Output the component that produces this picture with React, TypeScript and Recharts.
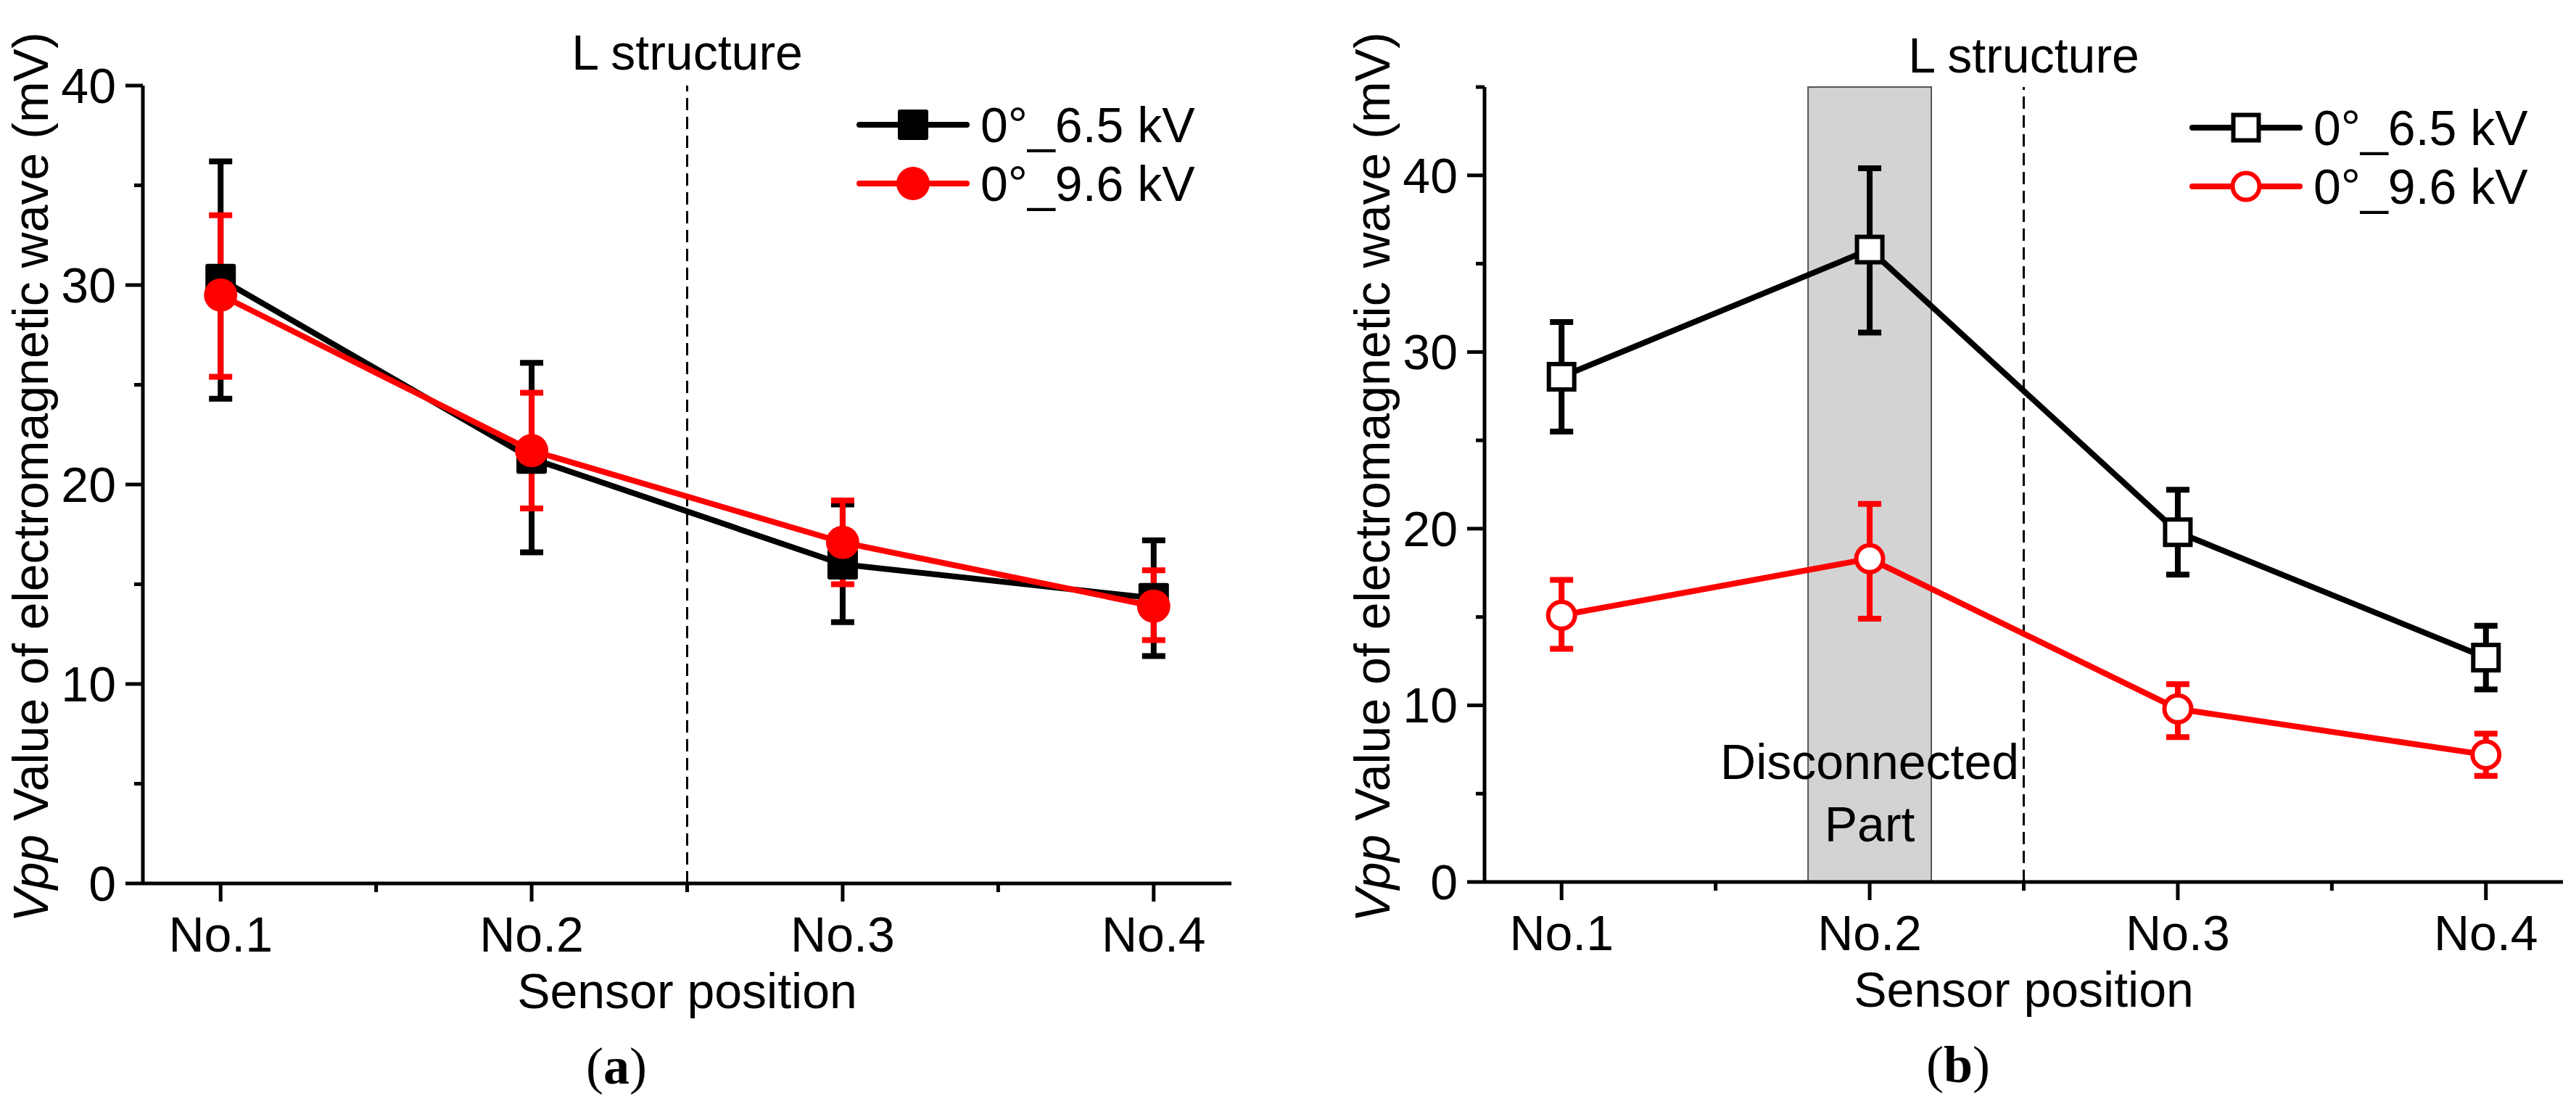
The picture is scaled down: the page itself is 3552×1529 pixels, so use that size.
import React from 'react'
import { LineChart, Line, XAxis, YAxis, ErrorBar, ReferenceLine, ReferenceArea, Legend, Label } from 'recharts'

const FONT = '"Liberation Sans", Arial, sans-serif'
const SERIF = '"Liberation Serif", "Times New Roman", serif'

// sensor positions and axis ticks
const positions = [1, 2, 3, 4]
const positionLabels = ['No.1', 'No.2', 'No.3', 'No.4']
const xTicks = [1, 1.5, 2, 2.5, 3, 3.5, 4]
const seriesNames = ['0°_6.5 kV', '0°_9.6 kV']
const yTicksA = [0, 5, 10, 15, 20, 25, 30, 35, 40]
const yTicksB = [0, 5, 10, 15, 20, 25, 30, 35, 40, 45]

// panel (a)
const a65 = [30.3, 21.3, 16.0, 14.3]
const a65Low = [24.3, 16.6, 13.1, 11.4]
const a65High = [36.2, 26.1, 19.0, 17.2]
const a96 = [29.5, 21.7, 17.1, 13.9]
const a96Low = [25.4, 18.8, 15.0, 12.2]
const a96High = [33.5, 24.6, 19.2, 15.7]

// panel (b)
const b65 = [28.6, 35.8, 19.8, 12.7]
const b65Low = [25.5, 31.1, 17.4, 10.9]
const b65High = [31.7, 40.4, 22.2, 14.5]
const b96 = [15.1, 18.3, 9.8, 7.2]
const b96Low = [13.2, 14.9, 8.2, 6.0]
const b96High = [17.1, 21.4, 11.2, 8.4]

const structureAt = 2.5
const disconnected = [1.8, 2.2]

const buildRows = (
  v1: number[], lo1: number[], hi1: number[],
  v2: number[], lo2: number[], hi2: number[]
) =>
  positions.map((p, i) => ({
    pos: p,
    v65: v1[i],
    e65: [v1[i] - lo1[i], hi1[i] - v1[i]],
    v96: v2[i],
    e96: [v2[i] - lo2[i], hi2[i] - v2[i]],
  }))

const rowsA = buildRows(a65, a65Low, a65High, a96, a96Low, a96High)
const rowsB = buildRows(b65, b65Low, b65High, b96, b96Low, b96High)

const XTick = (props: any) => {
  const { x, y, payload } = props
  const v = payload.value
  const major = Number.isInteger(v)
  return (
    <g>
      <line x1={x} x2={x} y1={y} y2={y + (major ? 25 : 12)} stroke="#000" strokeWidth={5} />
      {major && (
        <text x={x} y={y + 94} textAnchor="middle" fontSize={68} fontFamily={FONT} fill="#000">
          {positionLabels[v - 1]}
        </text>
      )}
    </g>
  )
}

const YTick = (props: any) => {
  const { x, y, payload } = props
  const major = payload.value % 10 === 0
  return (
    <g>
      <line x1={x} x2={x - (major ? 24 : 12)} y1={y} y2={y} stroke="#000" strokeWidth={5} />
      {major && (
        <text x={x - 37} y={y + 24} textAnchor="end" fontSize={68} fontFamily={FONT} fill="#000">
          {payload.value}
        </text>
      )}
    </g>
  )
}

const Marker = ({ cx, cy, shape, color, open }: any) => {
  if (cx == null || cy == null) return null
  if (shape === 'square') {
    return open ? (
      <rect x={cx - 17.5} y={cy - 17.5} width={35} height={35} fill="#fff" stroke={color} strokeWidth={6} />
    ) : (
      <rect x={cx - 21} y={cy - 21} width={42} height={42} rx={3} fill={color} />
    )
  }
  return open ? (
    <circle cx={cx} cy={cy} r={18.5} fill="#fff" stroke={color} strokeWidth={6} />
  ) : (
    <circle cx={cx} cy={cy} r={23} fill={color} />
  )
}

const legendContent = (open: boolean) => () => (
  <svg width={520} height={170}>
    {seriesNames.map((name, i) => {
      const cy = 40 + i * 81
      const color = i === 0 ? '#000' : '#ff0000'
      return (
        <g key={name}>
          <line x1={20} x2={168} y1={cy} y2={cy} stroke={color} strokeWidth={8} strokeLinecap="round" />
          <Marker cx={94} cy={cy} shape={i === 0 ? 'square' : 'circle'} color={color} open={open} />
          <text x={187} y={cy + 24} fontSize={68} fontFamily={FONT} fill="#000">
            {name}
          </text>
        </g>
      )
    })}
  </svg>
)

const yTitle = (props: any) => {
  const { viewBox } = props
  const cx = viewBox.x + viewBox.width - 131
  const cy = viewBox.y + viewBox.height / 2 - 10
  return (
    <text x={cx} y={cy} transform={`rotate(-90 ${cx} ${cy})`} textAnchor="middle" fontSize={68} fontFamily={FONT} fill="#000">
      <tspan fontStyle="italic">Vpp</tspan> Value of electromagnetic wave (mV)
    </text>
  )
}

const xTitle = (tag: string) => (props: any) => {
  const { viewBox } = props
  return (
    <g>
      <text x={viewBox.x + viewBox.width / 2} y={viewBox.y + 172} textAnchor="middle" fontSize={68} fontFamily={FONT} fill="#000">
        Sensor position
      </text>
      <text x={viewBox.x + 653} y={viewBox.y + 276} textAnchor="middle" fontSize={72} fontFamily={SERIF} fill="#000">
        (<tspan fontWeight="bold">{tag}</tspan>)
      </text>
    </g>
  )
}

const structureLabel = (offset: number) => (props: any) => {
  const { viewBox } = props
  return (
    <text x={viewBox.x} y={viewBox.y - offset} textAnchor="middle" fontSize={68} fontFamily={FONT} fill="#000">
      L structure
    </text>
  )
}

const disconnectedLabel = (props: any) => {
  const { viewBox } = props
  const cx = viewBox.x + viewBox.width / 2
  const bottom = viewBox.y + viewBox.height
  return (
    <text textAnchor="middle" fontSize={68} fontFamily={FONT} fill="#000">
      <tspan x={cx} y={bottom - 142}>Disconnected</tspan>
      <tspan x={cx} y={bottom - 56}>Part</tspan>
    </text>
  )
}

interface PanelProps {
  rows: typeof rowsA
  yTicks: number[]
  yMax: number
  open: boolean
  tag: string
  margin: { top: number; right: number; bottom: number; left: number }
  legendPos: { left: number; top: number }
  labelOffset: number
  shaded?: boolean
}

function Panel({ rows, yTicks, yMax, open, tag, margin, legendPos, labelOffset, shaded }: PanelProps) {
  return (
    <LineChart width={1776} height={1529} data={rows} margin={margin}>
      {shaded && (
        <ReferenceArea
          x1={disconnected[0]}
          x2={disconnected[1]}
          y1={0}
          y2={yMax}
          fill="#d3d3d3"
          fillOpacity={1}
          stroke="#555"
          strokeWidth={2}
          label={disconnectedLabel}
        />
      )}
      <XAxis
        dataKey="pos"
        type="number"
        domain={[0.75, 4.25]}
        ticks={xTicks}
        interval={0}
        height={100}
        tickSize={0}
        tickMargin={0}
        tickLine={false}
        tick={<XTick />}
        axisLine={{ stroke: '#000', strokeWidth: 5 }}
      >
        <Label content={xTitle(tag)} />
      </XAxis>
      <YAxis
        type="number"
        domain={[0, yMax]}
        ticks={yTicks}
        interval={0}
        width={100}
        tickSize={0}
        tickMargin={0}
        tickLine={false}
        tick={<YTick />}
        axisLine={{ stroke: '#000', strokeWidth: 5 }}
      >
        <Label content={yTitle} />
      </YAxis>
      <ReferenceLine
        x={structureAt}
        stroke="#000"
        strokeWidth={3}
        strokeDasharray="17 9"
        label={structureLabel(labelOffset)}
      />
      <Legend
        layout="vertical"
        align="center"
        verticalAlign="middle"
        content={legendContent(open)}
        wrapperStyle={{ position: 'absolute', left: legendPos.left, top: legendPos.top, width: 520, height: 170 }}
      />
      <Line
        dataKey="v65"
        name={seriesNames[0]}
        type="linear"
        stroke="#000"
        strokeWidth={8}
        strokeLinejoin="round"
        isAnimationActive={false}
        activeDot={false}
        dot={(p: any) => <Marker key={`s-${p.index}`} cx={p.cx} cy={p.cy} shape="square" color="#000" open={open} />}
      >
        <ErrorBar dataKey="e65" direction="y" width={16} strokeWidth={8} stroke="#000" isAnimationActive={false} />
      </Line>
      <Line
        dataKey="v96"
        name={seriesNames[1]}
        type="linear"
        stroke="#ff0000"
        strokeWidth={8}
        strokeLinejoin="round"
        isAnimationActive={false}
        activeDot={false}
        dot={(p: any) => <Marker key={`c-${p.index}`} cx={p.cx} cy={p.cy} shape="circle" color="#ff0000" open={open} />}
      >
        <ErrorBar dataKey="e96" direction="y" width={16} strokeWidth={8} stroke="#ff0000" isAnimationActive={false} />
      </Line>
    </LineChart>
  )
}

export default function App() {
  return (
    <div style={{ position: 'relative', width: 3552, height: 1529, background: '#fff' }}>
      <style>{`body { margin: 0; }`}</style>
      <div style={{ position: 'absolute', left: 0, top: 0 }}>
        <Panel
          rows={rowsA}
          yTicks={yTicksA}
          yMax={40}
          open={false}
          tag="a"
          margin={{ top: 118, right: 78, bottom: 211, left: 97 }}
          legendPos={{ left: 1165, top: 132 }}
          labelOffset={22}
        />
      </div>
      <div style={{ position: 'absolute', left: 1776, top: 0 }}>
        <Panel
          rows={rowsB}
          yTicks={yTicksB}
          yMax={45}
          open={true}
          tag="b"
          margin={{ top: 120, right: 18, bottom: 213, left: 171 }}
          legendPos={{ left: 1227, top: 136 }}
          labelOffset={20}
          shaded
        />
      </div>
    </div>
  )
}
